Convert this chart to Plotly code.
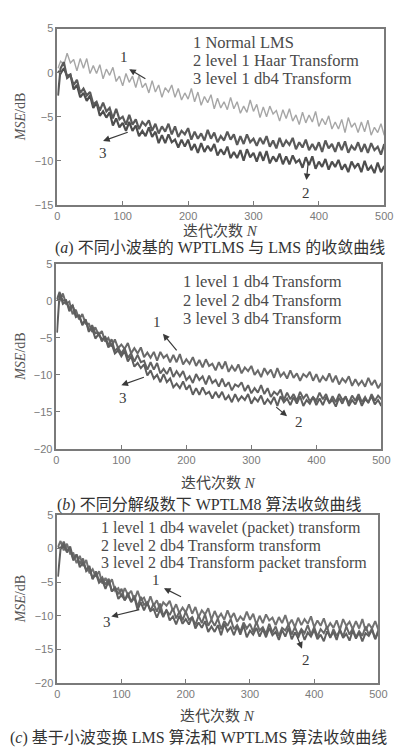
import plotly.graph_objects as go

# ---------------- data ----------------
N = [1] + list(range(5, 501, 5))

a_lms = [0.5,
    1.3, 0.9, 2.2, 1.1, 1.5, 0.2, 1.6, 0.5, 1.6, -0.1,
    0.8, -0.1, 0.9, -0.7, 0.4, -0.3, 0.6, -1.0, -0.4, -1.5,
    -0.1, -1.1, -0.4, -1.7, -0.3, -1.7, -1.2, -2.3, -0.9, -2.2,
    -1.4, -2.8, -1.7, -2.2, -1.4, -2.8, -1.8, -3.1, -2.3, -3.0,
    -1.8, -3.3, -2.2, -3.7, -2.7, -3.4, -2.5, -4.1, -2.9, -4.0,
    -3.3, -4.2, -2.8, -4.1, -3.3, -4.6, -3.8, -4.5, -3.1, -4.4,
    -3.6, -5.1, -3.9, -5.0, -3.8, -4.7, -4.3, -5.5, -4.2, -5.2,
    -4.1, -5.5, -4.8, -5.9, -4.5, -5.7, -4.8, -5.6, -4.4, -6.1,
    -5.2, -5.9, -4.9, -6.4, -5.6, -6.4, -5.3, -6.8, -5.1, -6.2,
    -5.7, -6.8, -5.6, -6.7, -5.4, -7.1, -6.2, -6.8, -5.8, -7.1]

a_haar = [0.2,
    -0.1, 0.5, -0.4, -0.2, -1.9, -1.4, -2.8, -2.3, -3.2, -2.6,
    -4.0, -3.4, -4.9, -4.4, -5.1, -4.5, -6.0, -5.2, -6.2, -5.7,
    -6.6, -5.6, -6.6, -6.0, -7.2, -6.6, -7.2, -6.2, -7.3, -6.7,
    -8.0, -7.1, -8.0, -7.0, -7.9, -7.6, -8.5, -7.6, -8.4, -7.6,
    -8.8, -8.1, -9.1, -8.0, -9.0, -8.3, -8.9, -8.1, -9.4, -8.7,
    -9.3, -8.4, -9.7, -9.0, -9.7, -8.8, -10.0, -8.7, -9.6, -9.1,
    -10.1, -9.0, -10.0, -8.9, -10.3, -9.5, -10.1, -9.2, -10.4, -9.5,
    -10.4, -9.4, -10.2, -9.9, -10.8, -9.6, -10.5, -9.5, -10.9, -10.1,
    -10.7, -9.8, -11.0, -10.1, -10.7, -9.9, -11.0, -10.4, -11.3, -10.1,
    -10.8, -10.3, -11.3, -10.0, -11.1, -10.6, -11.4, -10.2, -11.3, -10.6]

a_db4 = [-2.6,
    0.5, 1.2, -0.6, -0.3, -1.4, -0.8, -2.3, -1.8, -2.6, -2.2,
    -3.6, -3.3, -4.3, -3.4, -4.4, -4.0, -5.2, -4.1, -5.3, -5.0,
    -5.9, -4.8, -5.9, -5.3, -6.4, -5.6, -6.0, -5.4, -6.6, -5.8,
    -6.9, -6.1, -6.7, -5.8, -7.0, -6.1, -7.3, -6.6, -7.0, -6.3,
    -7.6, -6.7, -7.5, -6.9, -7.7, -6.5, -7.5, -6.8, -7.9, -7.2,
    -7.7, -6.7, -7.6, -7.0, -8.2, -7.2, -8.1, -7.0, -7.9, -7.5,
    -8.3, -7.4, -8.1, -7.2, -8.4, -7.7, -8.6, -7.4, -8.4, -7.7,
    -8.2, -7.4, -8.7, -7.9, -8.5, -7.6, -8.8, -8.1, -8.8, -7.9,
    -9.0, -7.7, -8.6, -8.1, -9.0, -7.9, -8.8, -7.8, -9.1, -8.3,
    -8.8, -7.9, -9.0, -8.1, -9.1, -8.0, -8.8, -8.4, -9.3, -8.1]

b_lv1 = [0.2,
    0.0, 1.0, -0.4, -0.1, -1.8, -1.2, -2.5, -1.8, -3.1, -3.1,
    -4.2, -3.6, -4.6, -4.1, -5.5, -5.0, -6.2, -5.2, -6.4, -5.9,
    -6.5, -5.7, -7.1, -6.4, -7.1, -6.3, -7.6, -7.0, -7.7, -6.9,
    -8.1, -6.9, -7.7, -7.3, -8.3, -7.3, -8.3, -7.2, -8.6, -7.9,
    -8.5, -7.6, -8.8, -8.0, -9.0, -7.9, -8.8, -8.5, -9.4, -8.3,
    -9.2, -8.2, -9.6, -8.8, -9.5, -8.6, -9.8, -9.0, -9.5, -8.8,
    -10.0, -9.4, -10.3, -9.1, -9.9, -9.3, -10.4, -9.1, -10.2, -9.7,
    -10.5, -9.4, -10.4, -9.8, -10.8, -9.9, -10.3, -9.6, -10.8, -9.9,
    -11.0, -10.2, -10.8, -9.8, -11.0, -10.1, -11.3, -10.5, -11.0, -10.2,
    -11.5, -10.6, -11.4, -10.8, -11.6, -10.4, -11.4, -10.7, -11.8, -11.1]

b_lv2 = [-4.3,
    1.0, 0.0, 0.1, -1.4, -0.6, -2.0, -2.0, -3.3, -2.5, -4.0,
    -3.7, -5.1, -4.5, -5.2, -4.9, -6.3, -5.8, -7.1, -6.7, -7.5,
    -6.8, -8.2, -7.5, -8.9, -8.4, -9.1, -8.6, -10.1, -9.4, -10.5,
    -10.0, -11.0, -9.9, -11.0, -10.5, -11.7, -11.2, -11.8, -10.9, -12.0,
    -11.4, -12.7, -11.8, -12.7, -11.7, -12.6, -12.3, -13.2, -12.3, -13.1,
    -12.3, -13.4, -12.8, -13.7, -12.6, -13.5, -12.9, -13.4, -12.6, -13.9,
    -13.1, -13.6, -12.8, -14.0, -13.3, -13.9, -13.0, -14.2, -12.9, -13.7,
    -13.2, -14.1, -13.0, -13.9, -12.9, -14.2, -13.4, -13.9, -13.0, -14.1,
    -13.2, -14.1, -13.0, -13.8, -13.4, -14.3, -13.1, -13.9, -12.9, -14.2,
    -13.4, -14.0, -13.0, -14.2, -13.3, -13.7, -12.9, -14.0, -13.4, -14.2]

b_lv3 = [0.2,
    1.2, -0.4, -0.1, -1.0, -0.6, -2.2, -2.0, -3.1, -2.6, -4.2,
    -3.3, -4.4, -4.3, -5.5, -4.8, -6.0, -5.2, -6.8, -6.3, -7.1,
    -6.4, -7.7, -7.1, -8.2, -7.3, -8.3, -8.1, -9.3, -8.3, -9.3,
    -8.4, -9.8, -9.2, -9.9, -9.0, -10.3, -9.5, -10.2, -9.5, -10.7,
    -10.2, -11.1, -9.9, -10.7, -10.2, -11.3, -10.1, -11.1, -10.7, -11.6,
    -10.5, -11.6, -11.0, -12.1, -11.3, -11.6, -11.0, -12.2, -11.4, -12.5,
    -11.8, -12.4, -11.4, -12.6, -11.8, -13.0, -12.3, -12.7, -12.0, -13.4,
    -12.4, -13.3, -12.6, -13.5, -12.3, -13.2, -12.6, -13.6, -13.0, -13.5,
    -12.4, -13.3, -12.6, -13.8, -12.9, -13.7, -12.6, -13.4, -13.0, -13.8,
    -12.8, -13.5, -12.6, -13.7, -13.0, -13.8, -12.6, -13.5, -12.8, -13.3]

c_wt = [0.2,
    1.1, -0.3, 0.7, -0.8, -0.7, -2.2, -1.1, -2.6, -1.7, -3.7,
    -3.1, -4.2, -3.4, -5.2, -4.4, -5.3, -4.6, -6.3, -5.9, -7.2,
    -5.9, -6.9, -6.3, -7.7, -6.3, -7.7, -7.3, -8.5, -7.1, -8.5,
    -7.7, -9.1, -8.0, -8.5, -7.8, -9.3, -8.3, -9.6, -8.8, -9.5,
    -8.3, -9.7, -8.7, -10.2, -9.2, -9.8, -8.9, -10.6, -9.3, -10.4,
    -9.7, -10.6, -9.2, -10.4, -9.6, -10.9, -10.1, -10.7, -9.4, -10.6,
    -9.7, -11.3, -10.0, -11.1, -9.8, -10.7, -10.3, -11.4, -10.2, -11.1,
    -9.9, -11.4, -10.6, -11.7, -10.3, -11.4, -10.5, -11.2, -10.1, -11.7,
    -10.7, -11.5, -10.4, -11.9, -11.1, -11.8, -10.7, -12.1, -10.5, -11.5,
    -10.9, -12.0, -10.8, -11.9, -10.5, -12.2, -11.2, -11.9, -10.8, -12.1]

c_tt = [-4.2,
    -0.1, 0.5, -0.6, 0.3, -1.6, -0.9, -2.8, -2.1, -3.2, -2.6,
    -4.6, -3.7, -5.1, -4.7, -6.0, -4.8, -6.4, -5.8, -7.5, -6.9,
    -7.7, -6.6, -8.0, -7.3, -9.1, -8.0, -9.2, -8.1, -9.3, -9.0,
    -10.3, -9.1, -10.2, -9.1, -10.7, -10.1, -11.3, -10.0, -11.2, -10.5,
    -11.3, -10.2, -11.9, -11.0, -11.8, -10.8, -12.4, -11.6, -12.4, -11.4,
    -12.9, -11.2, -12.3, -11.7, -12.9, -11.6, -12.8, -11.4, -13.2, -12.2,
    -12.8, -11.8, -13.1, -12.0, -13.2, -11.8, -12.9, -12.4, -13.6, -12.1,
    -13.1, -11.8, -13.5, -12.5, -13.3, -12.1, -13.6, -12.5, -13.1, -12.1,
    -13.5, -12.8, -13.8, -12.3, -13.2, -12.4, -13.6, -12.0, -13.3, -12.7,
    -13.7, -12.2, -13.4, -12.5, -13.8, -12.6, -13.0, -12.1, -13.5, -12.4]

c_tpt = [0.2,
    0.0, 1.0, -0.3, -0.2, -1.8, -0.9, -2.3, -1.5, -3.4, -3.0,
    -4.5, -3.4, -4.8, -4.3, -5.4, -4.5, -6.4, -5.8, -6.8, -6.0,
    -7.7, -7.0, -7.9, -7.0, -8.7, -7.2, -8.4, -8.0, -9.3, -8.2,
    -9.4, -8.2, -10.0, -9.2, -9.9, -8.9, -10.4, -9.4, -10.7, -9.4,
    -10.6, -10.2, -11.4, -10.0, -11.1, -9.8, -11.5, -10.6, -11.5, -10.4,
    -12.0, -10.8, -11.5, -10.5, -12.0, -11.4, -12.4, -11.0, -11.9, -11.2,
    -12.4, -10.9, -12.2, -11.7, -12.7, -11.2, -12.5, -11.6, -13.0, -11.8,
    -12.2, -11.3, -12.8, -11.7, -12.9, -12.0, -12.6, -11.4, -12.8, -11.7,
    -13.1, -12.0, -12.6, -11.6, -13.3, -12.0, -13.0, -12.2, -13.1, -11.6,
    -12.8, -11.9, -13.2, -12.3, -13.0, -11.6, -12.8, -11.9, -13.4, -12.1]

for s in (a_lms, a_haar, a_db4, b_lv1, b_lv2, b_lv3, c_wt, c_tt, c_tpt):
    assert len(s) == len(N), len(s)

x_ticks = [0, 100, 200, 300, 400, 500]
legend_a = ["1 Normal LMS", "2 level 1 Haar Transform", "3 level 1 db4 Transform"]
legend_b = ["1 level 1 db4 Transform", "2 level 2 db4 Transform", "3 level 3 db4 Transform"]
legend_c = ["1 level 1 db4 wavelet (packet) transform", "2 level 2 db4 Transform transform",
            "3 level 2 db4 Transform packet transform"]
captions = ["(<i>a</i>) 不同小波基的 WPTLMS 与 LMS 的收敛曲线",
            "(<i>b</i>) 不同分解级数下 WPTLM8 算法收敛曲线",
            "(<i>c</i>) 基于小波变换 LMS 算法和 WPTLMS 算法收敛曲线"]
x_title = "迭代次数 <i>N</i>"
y_title = "<i>MSE</i>/dB"

# ---------------- layout helpers ----------------
W, H = 401, 753
def px(x):
    return x / W
def py(y):
    return 1 - y / H

SERIF = "Liberation Serif, Noto Sans CJK SC"
SANS = "Liberation Sans, Arial"

panels = [
    dict(s="", xpx=(56, 393), ypx=(23, 202), yr=[-15, 5],
         series=[(a_lms, "#a6a6a6", 1.4), (a_haar, "#4e4e4e", 2.2), (a_db4, "#5a5a5a", 2.2)],
         legend=legend_a, leg_x=194, leg_y=(37, 55, 74), leg_size=16.5,
         xl_y=229, cap_y=246, cap_x=224,
         arrows=[((110, 0.4), (137, -0.8), "1", (102, 1.75)),
                 ((70, -7.75), (110, -6.7), "3", (70, -9.1)),
                 ((381, -12.2), (384, -10.0), "2", (381, -13.7))]),
    dict(s="2", xpx=(55, 390), ypx=(262, 450), yr=[-20, 5],
         series=[(b_lv1, "#6a6a6a", 2.0), (b_lv3, "#626262", 2.0), (b_lv2, "#5e5e5e", 2.0)],
         legend=legend_b, leg_x=184, leg_y=(280, 299, 318), leg_size=16.5,
         xl_y=485, cap_y=507, cap_x=212,
         arrows=[((164, -4.45), (187, -6.9), "1", (155, -2.9)),
                 ((100, -11.4), (137, -10.25), "3", (102, -13.1)),
                 ((355, -15.6), (336, -14.2), "2", (373, -16.4))]),
    dict(s="3", xpx=(56, 387), ypx=(517, 688), yr=[-20, 5],
         series=[(c_wt, "#727272", 2.0), (c_tpt, "#686868", 2.0), (c_tt, "#606060", 2.0)],
         legend=legend_c, leg_x=99, leg_y=(530, 548, 566), leg_size=16,
         xl_y=722, cap_y=743, cap_x=202,
         arrows=[((166, -5.9), (195, -7.3), "1", (154, -4.7)),
                 ((84, -10.1), (130, -9.05), "3", (77, -11.0)),
                 ((381, -14.9), (373, -13.0), "2", (387, -16.6))]),
]

fig = go.Figure()
annotations = []
axis_common = dict(showline=True, linecolor="#7a7a7a", linewidth=1.5, mirror=True,
                   ticks="inside", ticklen=4, tickcolor="#7a7a7a", tickwidth=1,
                   showgrid=False, zeroline=False,
                   tickfont=dict(family=SANS, size=11, color="#7a7a7a"))

for p in panels:
    s = p["s"]
    xref, yref = "x" + s, "y" + s
    for vals, col, w in p["series"]:
        fig.add_trace(go.Scatter(x=N, y=vals, mode="lines", xaxis=xref, yaxis=yref,
                                 line=dict(color=col, width=w), showlegend=False,
                                 hoverinfo="skip"))
    fig.update_layout(**{
        "xaxis" + s: dict(domain=[px(p["xpx"][0]), px(p["xpx"][1])], range=[0, 500],
                          tickvals=x_ticks, anchor=yref, **axis_common),
        "yaxis" + s: dict(domain=[py(p["ypx"][1]), py(p["ypx"][0])], range=p["yr"],
                          dtick=5, anchor=xref, **axis_common),
    })
    for txt, yy in zip(p["legend"], p["leg_y"]):
        annotations.append(dict(text=txt, xref="paper", yref="paper", x=px(p["leg_x"]), y=py(yy),
                                xanchor="left", yanchor="middle", showarrow=False,
                                font=dict(family=SERIF, size=p["leg_size"], color="#4a4a4a")))
    for head, tail, lab, lpos in p["arrows"]:
        annotations.append(dict(text="", x=head[0], y=head[1], ax=tail[0], ay=tail[1],
                                xref=xref, yref=yref, axref=xref, ayref=yref,
                                showarrow=True, arrowhead=2, arrowsize=1.1, arrowwidth=1.2,
                                arrowcolor="#3a3a3a"))
        annotations.append(dict(text=lab, x=lpos[0], y=lpos[1], xref=xref, yref=yref,
                                showarrow=False, font=dict(family=SERIF, size=15, color="#3a3a3a")))
    ymid = (p["ypx"][0] + p["ypx"][1]) / 2
    annotations.append(dict(text=y_title, xref="paper", yref="paper", x=px(18), y=py(ymid),
                            textangle=-90, showarrow=False, xanchor="center", yanchor="middle",
                            font=dict(family=SERIF, size=14, color="#555555")))
    xmid = (p["xpx"][0] + p["xpx"][1]) / 2
    annotations.append(dict(text=x_title, xref="paper", yref="paper", x=px(xmid), y=py(p["xl_y"]),
                            showarrow=False, xanchor="center", yanchor="middle",
                            font=dict(family=SERIF, size=15, color="#444444")))

for p, cap in zip(panels, captions):
    annotations.append(dict(text=cap, xref="paper", yref="paper", x=px(p["cap_x"]), y=py(p["cap_y"]),
                            showarrow=False, xanchor="center", yanchor="middle",
                            font=dict(family=SERIF, size=16, color="#333333")))

fig.update_layout(width=W, height=H, margin=dict(l=0, r=0, t=0, b=0),
                  paper_bgcolor="white", plot_bgcolor="white",
                  annotations=annotations, showlegend=False)

fig.write_html("out.html", config={"displayModeBar": False},
               post_script="document.body.style.margin='0';"
                           "document.documentElement.style.overflow='hidden';")
